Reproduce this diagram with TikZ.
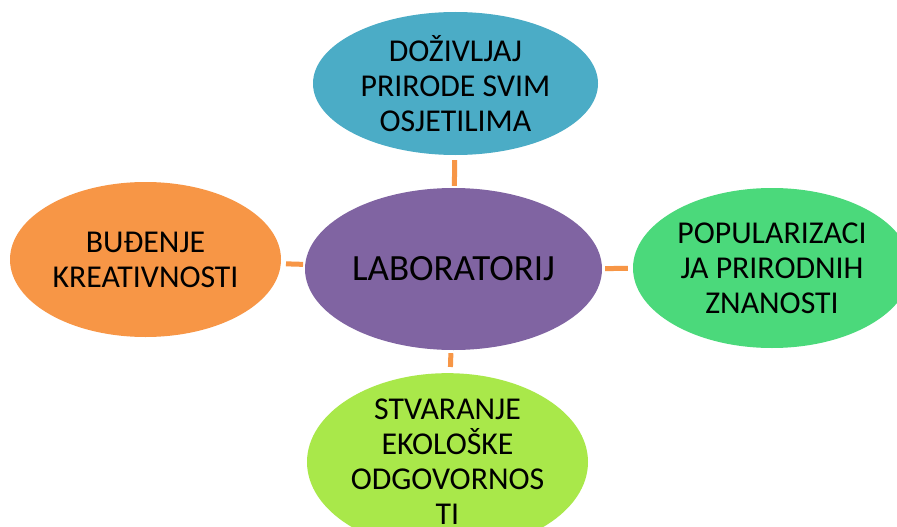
\documentclass[tikz,border=0pt]{standalone}
\usepackage{fontspec}
\setmainfont{Carlito}
\usetikzlibrary{shapes.geometric}
\definecolor{cteal}{HTML}{4BACC6}
\definecolor{cpurple}{HTML}{8064A2}
\definecolor{corange}{HTML}{F79646}
\definecolor{cgreen}{HTML}{4BD97B}
\definecolor{clime}{HTML}{A9E84A}
\definecolor{cline}{HTML}{F79646}
\tikzset{
  bubble/.style={ellipse, inner sep=0pt, align=center, text=black,
    font=\fontsize{31.8}{35}\selectfont},
  conn/.style={draw=cline, line width=5pt}
}
\begin{document}
\begin{tikzpicture}[x=1pt,y=-1pt]
\useasboundingbox (0,0) rectangle (897,527);
\clip (0,0) rectangle (897,527);
\fill[white] (0,0) rectangle (897,527);
\node[bubble, fill=cpurple, minimum width=297pt, minimum height=162pt,
  font=\fontsize{37}{44}\selectfont] (center) at (453.5,269) {LABORATORIJ};
\node[bubble, fill=cteal, minimum width=285pt, minimum height=143pt] (top) at (455.5,83.5)
  {DOŽIVLJAJ\\PRIRODE SVIM\\OSJETILIMA};
\node[bubble, fill=corange, minimum width=271pt, minimum height=155pt] (left) at (145.5,259.5)
  {BUĐENJE\\KREATIVNOSTI};
\node[bubble, fill=cgreen, minimum width=278pt, minimum height=160pt] (right) at (772,268)
  {POPULARIZACI\\JA PRIRODNIH\\ZNANOSTI};
\node[bubble, fill=clime, minimum width=281pt, minimum height=150pt] (bottom) at (447.5,462)
  {STVARANJE\\EKOLOŠKE\\ODGOVORNOS\\TI};
\draw[conn, shorten <=5pt, shorten >=2pt] (top) -- (center);
\draw[conn, shorten <=5pt, shorten >=2pt] (left) -- (center);
\draw[conn, shorten <=5pt, shorten >=3pt] (right) -- (center);
\draw[conn, shorten <=6pt, shorten >=3pt] (bottom) -- (center);
\end{tikzpicture}
\end{document}
